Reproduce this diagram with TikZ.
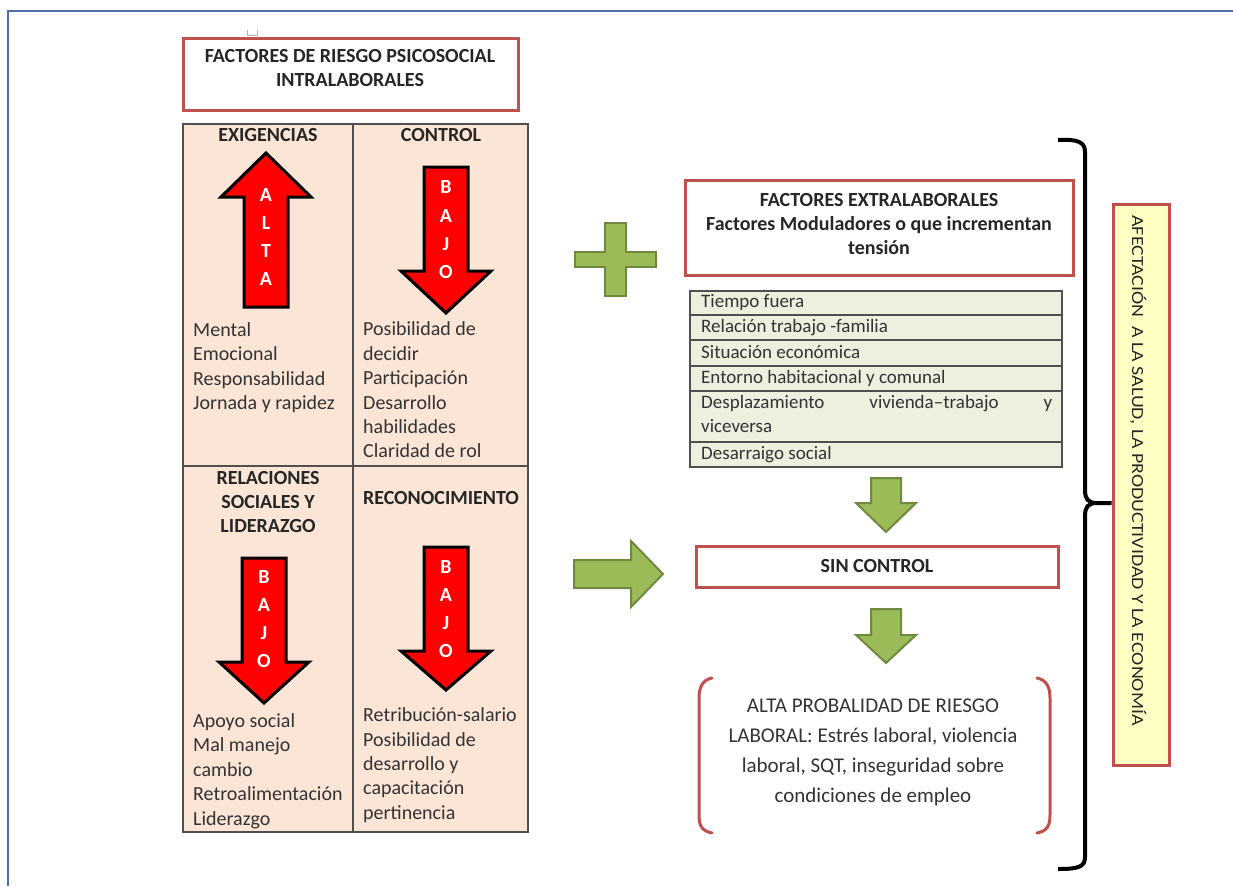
\documentclass[tikz,border=0pt]{standalone}
\usepackage{fontspec}
\usepackage{graphicx}
\setmainfont{Carlito}
\usetikzlibrary{positioning}

\definecolor{rojobox}{HTML}{C0504D}
\definecolor{durazno}{HTML}{FBE5D6}
\definecolor{verdeclaro}{HTML}{EBF1DE}
\definecolor{verdeflecha}{HTML}{9BBB59}
\definecolor{verdeborde}{HTML}{71893F}
\definecolor{amarillo}{HTML}{FFFFC4}
\definecolor{marco}{HTML}{4F6FA8}
\definecolor{gristexto}{HTML}{333333}
\definecolor{gristabla}{HTML}{505050}

\tikzset{
	redbox/.style={draw=rojobox,line width=3pt,fill=white},
	head/.style={font=\fontsize{20}{24}\selectfont\bfseries,text=black!85,inner sep=0pt,align=center},
	item/.style={font=\fontsize{20}{24.5}\selectfont,text=gristexto,inner sep=0pt,anchor=base west},
	fila/.style={font=\fontsize{19}{24}\selectfont,text=gristexto,inner sep=0pt,anchor=base west},
	letra/.style={font=\fontsize{20}{22}\selectfont\bfseries,text=white,inner sep=0pt},
	redarr/.style={fill=red,draw=black,line width=3pt,line join=miter},
	greenarr/.style={fill=verdeflecha,draw=verdeborde,line width=2pt,line join=miter},
	celda/.style={draw=gristabla,line width=1.5pt},
	corchete/.style={draw=rojobox,line width=3pt,line cap=round},
	llave/.style={draw=black,line width=4pt}
}

\newcommand{\flecharoja}[4]{\draw[redarr] (#1-22,#2) -- (#1+22,#2) -- (#1+22,#3) -- (#1+45,#3) -- (#1,#4) -- (#1-45,#3) -- (#1-22,#3) -- cycle;}
\newcommand{\flechaverde}[4]{\draw[greenarr] (#1-15,#2) -- (#1+15,#2) -- (#1+15,#3) -- (#1+30,#3) -- (#1,#4) -- (#1-30,#3) -- (#1-15,#3) -- cycle;}

\begin{document}
\begin{tikzpicture}[x=1pt,y=-1pt]
	\useasboundingbox (0,0) rectangle (1233,886);
	\draw[marco,line width=1.5pt] (8,886) -- (8,11) -- (1233,11);
	\draw[gray!60,line width=0.8pt] (247,30) -- (247,35) -- (257,35) -- (257,30);

	\node[redbox,minimum width=335,minimum height=72] (titulo) at (350.5,74) {};
	\node[head] (titulotxt) at (350,68) {FACTORES DE RIESGO PSICOSOCIAL\\INTRALABORALES};

	\fill[durazno] (183,124) rectangle (528,832);
	\draw[celda] (183,124) rectangle (528,832) (353,124) -- (353,832) (183,466) -- (528,466);

	\node[head] (exig) at (268,135) {EXIGENCIAS};
	\node[head] (contr) at (441,135) {CONTROL};
	\node[head] (relac) at (268,502) {RELACIONES\\SOCIALES Y\\LIDERAZGO};
	\node[head] (recon) at (441,498) {RECONOCIMIENTO};

	\flecharoja{266}{307}{197}{153}
	\flecharoja{446}{167}{271}{313}
	\flecharoja{264}{558}{662}{703}
	\flecharoja{446}{547}{651}{690}

	\foreach \l [count=\n] in {A,L,T,A}
		\node[letra] (alta\n) at (266,167+28*\n) {\l};
	\foreach \l [count=\n] in {B,A,J,O}
		\node[letra] (bajoc\n) at (446,159+28.3*\n) {\l};
	\foreach \l [count=\n] in {B,A,J,O}
		\node[letra] (bajor\n) at (264,549.5+28*\n) {\l};
	\foreach \l [count=\n] in {B,A,J,O}
		\node[letra] (bajos\n) at (446,539+28*\n) {\l};

	\foreach \t [count=\n] in {Mental,Emocional,Responsabilidad,Jornada y rapidez}
		\node[item] (exig\n) at (193,311.5+24.5*\n) {\t};
	\foreach \t [count=\n] in {Posibilidad de,decidir,Participación,Desarrollo,habilidades,Claridad de rol}
		\node[item] (contr\n) at (363,311.5+24.4*\n) {\t};
	\foreach \t [count=\n] in {Apoyo social,Mal manejo,cambio,Retroalimentación,Liderazgo}
		\node[item] (relac\n) at (193,702.5+24.5*\n) {\t};
	\foreach \t [count=\n] in {Retribución-salario,Posibilidad de,desarrollo y,capacitación,pertinencia}
		\node[item] (recon\n) at (363,697.5+24.3*\n) {\t};

	\draw[greenarr] (605,223) -- (626,223) -- (626,252) -- (656,252) -- (656,267) -- (626,267) -- (626,296) -- (605,296) -- (605,267) -- (575,267) -- (575,252) -- (605,252) -- cycle;

	\node[redbox,minimum width=388,minimum height=95] (extra) at (879,227.5) {};
	\node[head] (extratxt) at (879,224) {FACTORES EXTRALABORALES\\Factores Moduladores o que incrementan\\tensión};

	\fill[verdeclaro] (690,291) rectangle (1062,467);
	\draw[celda] (690,291) rectangle (1062,467);
	\foreach \y in {315,340,366,391,442}
		\draw[celda] (690,\y) -- (1062,\y);
	\foreach \t/\y [count=\n] in {Tiempo fuera/307,Relación trabajo -familia/332,Situación económica/358,Entorno habitacional y comunal/383,viceversa/432,Desarraigo social/459}
		\node[fila] (fila\n) at (701,\y) {\t};
	\node[fila] (despl) at (701,408) {\hbox to 351pt{Desplazamiento\hfill vivienda–trabajo\hfill y}};

	\flechaverde{886}{478}{503}{532}
	\draw[greenarr] (574,560) -- (631,560) -- (631,541) -- (663,574) -- (631,607) -- (631,588) -- (574,588) -- cycle;
	\node[redbox,head,minimum width=362,minimum height=41] (sinctrl) at (877,566.5) {SIN CONTROL};
	\flechaverde{886}{609}{635}{663}

	\node[font=\fontsize{21}{30}\selectfont,text=gristexto,align=center,inner sep=0pt] (prob) at (873,752.5) {ALTA PROBALIDAD DE RIESGO\\LABORAL: Estrés laboral, violencia\\laboral, SQT, inseguridad sobre\\condiciones de empleo};
	\draw[corchete] (712,678) .. controls (702,680) and (699,688) .. (699,698) -- (699,815) .. controls (699,826) and (702,831) .. (712,833);
	\draw[corchete] (1037,678) .. controls (1047,680) and (1050,688) .. (1050,698) -- (1050,815) .. controls (1050,826) and (1047,831) .. (1037,833);

	\node[redbox,fill=amarillo,minimum width=56,minimum height=561] (afect) at (1141,484.5) {};
	\node[rotate=-90,font=\fontsize{17}{20}\selectfont,text=black!85,inner sep=0pt] (afecttxt) at (1138,470.5) {\scalebox{1.17}[1]{AFECTACIÓN\ \ A LA SALUD, LA PRODUCTIVIDAD Y LA ECONOMÍA}};
	\coordinate (punta) at (afect.west |- 0,503);
	\draw[llave] (1058,140) .. controls (1078,139) and (1085,142) .. (1085,152) -- (1085,490) .. controls (1085,499) and (1088,503) .. (1097,503) -- (punta);
	\draw[llave] (1097,503) .. controls (1088,503) and (1085,507) .. (1085,516) -- (1085,857) .. controls (1085,867) and (1078,869) .. (1058,869);
\end{tikzpicture}
\end{document}
